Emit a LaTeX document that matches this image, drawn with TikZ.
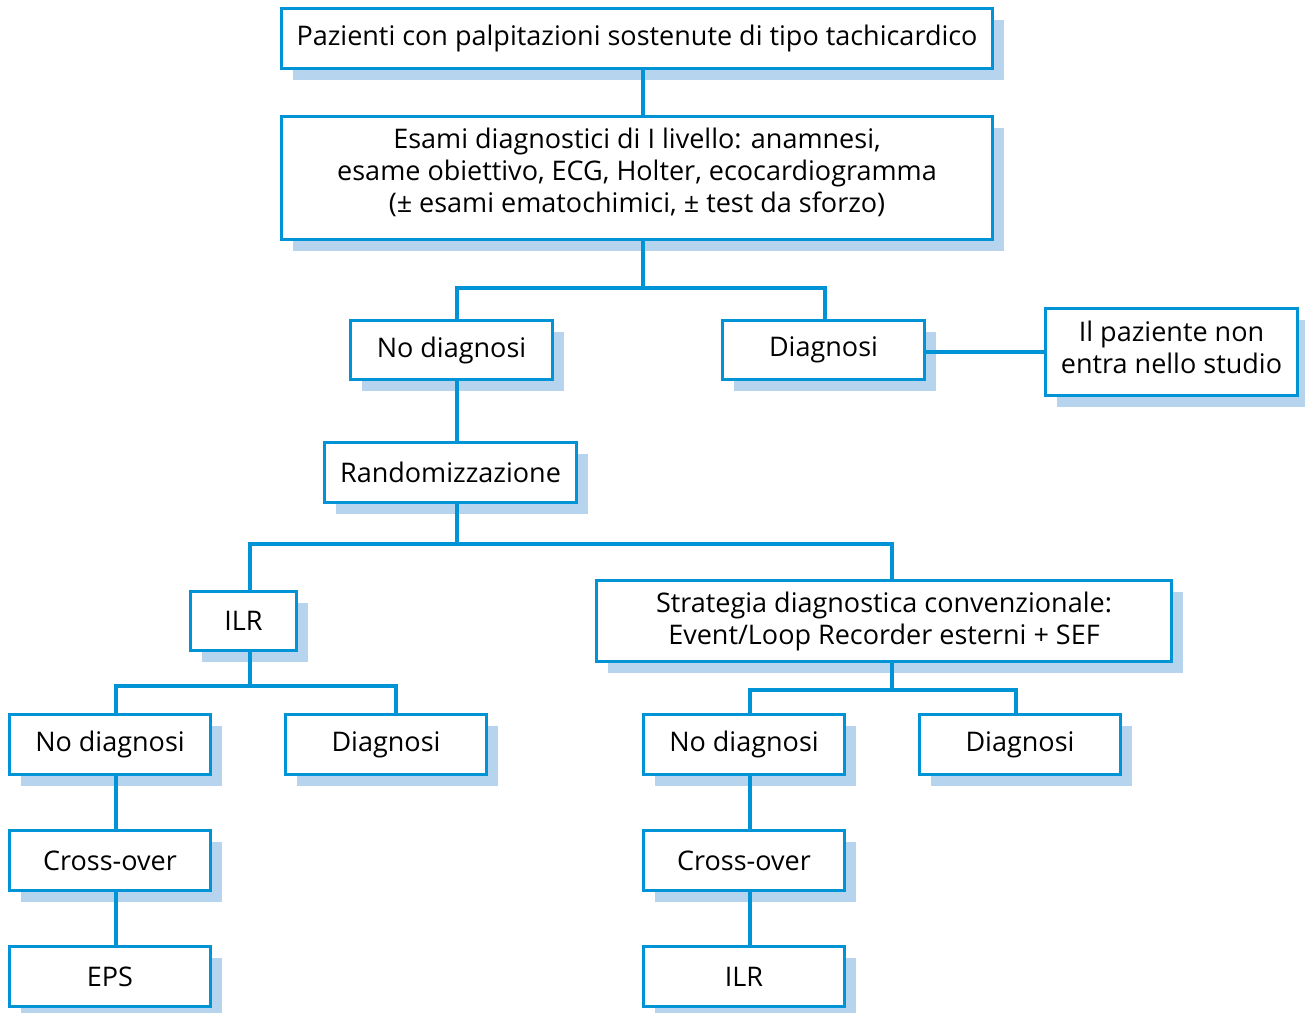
\documentclass[tikz,border=0pt]{standalone}
\usepackage{fontspec}
\setmainfont{Open Sans}
\usetikzlibrary{shadows}
\definecolor{bblue}{HTML}{0093D6}
\definecolor{sblue}{HTML}{B6D4EE}
\newcommand\liftup[2]{\raisebox{#1}[\height][\depth]{\begin{tabular}{@{}c@{}}#2\end{tabular}}}
\begin{document}
\begin{tikzpicture}[x=1pt,y=-1pt,
  box/.style={draw=bblue, line width=3pt, fill=white, inner sep=0pt, align=center,
    font=\fontsize{27}{32}\selectfont,
    drop shadow={shadow xshift=11pt, shadow yshift=-11pt, fill=sblue, opacity=1}},
  conn/.style={draw=bblue, line width=4.6pt}]
\useasboundingbox (0,0) rectangle (1305,1012);
\node[box, minimum width=711, minimum height=60] (top) at (637,38.5) {Pazienti con palpitazioni sostenute di tipo tachicardico};
\node[box, minimum width=711, minimum height=123] (esami) at (637,178) {\liftup{4pt}{Esami diagnostici di I livello: anamnesi,\\ esame obiettivo, ECG, Holter, ecocardiogramma\\ (± esami ematochimici, ± test da sforzo)}};
\node[box, minimum width=202, minimum height=59] (nd1) at (451.5,350) {No diagnosi};
\node[box, minimum width=202, minimum height=59] (d1) at (823.5,350) {Diagnosi};
\node[box, minimum width=252, minimum height=87] (ip) at (1171.5,352) {\liftup{1pt}{Il paziente non\\ entra nello studio}};
\node[box, minimum width=252, minimum height=60] (rand) at (450.5,472.5) {Randomizzazione};
\node[box, minimum width=106, minimum height=59] (ilr) at (243.5,621) {ILR};
\node[box, minimum width=575, minimum height=81] (strat) at (884,621) {Strategia diagnostica convenzionale:\\ Event/Loop Recorder esterni + SEF};
\node[box, minimum width=201, minimum height=60] (nd2) at (110,744.5) {No diagnosi};
\node[box, minimum width=201, minimum height=60] (d2) at (386,744.5) {Diagnosi};
\node[box, minimum width=201, minimum height=60] (nd3) at (744,744.5) {No diagnosi};
\node[box, minimum width=201, minimum height=60] (d3) at (1020,744.5) {Diagnosi};
\node[box, minimum width=201, minimum height=60] (co2) at (110,860.5) {Cross-over};
\node[box, minimum width=201, minimum height=60] (co3) at (744,860.5) {Cross-over};
\node[box, minimum width=201, minimum height=60] (eps) at (110,976.5) {EPS};
\node[box, minimum width=201, minimum height=60] (ilr3) at (744,976.5) {ILR};
\coordinate (b1) at (643,288);
\coordinate (b2) at (457,544);
\coordinate (b3) at (250,686);
\coordinate (b4) at (892,690);
\draw[conn] ([xshift=6]top.south) -- ([xshift=6]esami.north);
\draw[conn] ([xshift=6]esami.south) -- (b1);
\draw[conn] ([xshift=5.5]nd1.north) |- (b1) -| ([xshift=1.5]d1.north);
\draw[conn] (ip.west -| d1.east) -- (ip.west);
\draw[conn] ([xshift=5.5]nd1.south) -- ([xshift=5.5]nd1.south |- rand.north);
\draw[conn] ([xshift=6.5]rand.south) -- (b2);
\draw[conn] ([xshift=6.5]ilr.north) |- (b2) -| ([xshift=8]strat.north);
\draw[conn] ([xshift=6.5]ilr.south) -- (b3);
\draw[conn] ([xshift=6]nd2.north) |- (b3) -| ([xshift=10]d2.north);
\draw[conn] ([xshift=8]strat.south) -- (b4);
\draw[conn] ([xshift=6]nd3.north) |- (b4) -| ([xshift=-4]d3.north);
\draw[conn] ([xshift=6]nd2.south) -- ([xshift=6]co2.north);
\draw[conn] ([xshift=6]co2.south) -- ([xshift=6]eps.north);
\draw[conn] ([xshift=6]nd3.south) -- ([xshift=6]co3.north);
\draw[conn] ([xshift=6]co3.south) -- ([xshift=6]ilr3.north);
\end{tikzpicture}
\end{document}
